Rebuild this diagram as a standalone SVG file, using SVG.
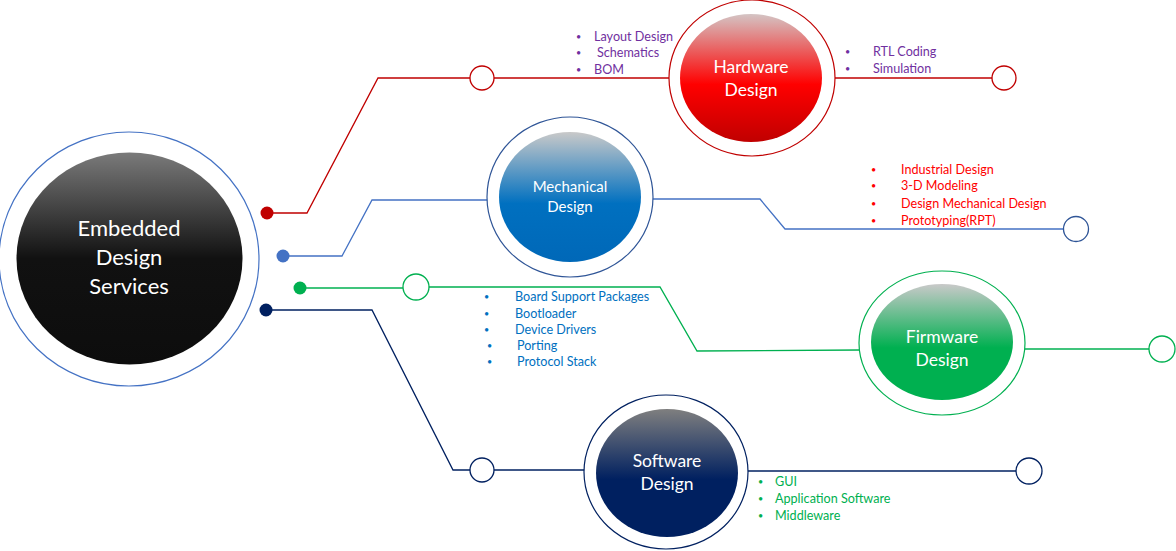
<svg xmlns="http://www.w3.org/2000/svg" width="1176" height="551" viewBox="0 0 1176 551">
<defs>
<linearGradient id="gMain" x1="0" y1="0" x2="0" y2="1">
<stop offset="0" stop-color="#7a7a7a"/><stop offset="0.5" stop-color="#111"/><stop offset="1" stop-color="#0d0d0d"/>
</linearGradient>
<linearGradient id="gHw" x1="0" y1="0" x2="0" y2="1">
<stop offset="0" stop-color="#d4c4c4"/><stop offset="0.55" stop-color="#ff0000"/><stop offset="1" stop-color="#c00000"/>
</linearGradient>
<linearGradient id="gMe" x1="0" y1="0" x2="0" y2="1">
<stop offset="0" stop-color="#c9c9c9"/><stop offset="0.55" stop-color="#0070c0"/><stop offset="1" stop-color="#0068b8"/>
</linearGradient>
<linearGradient id="gFw" x1="0" y1="0" x2="0" y2="1">
<stop offset="0" stop-color="#c9c9c9"/><stop offset="0.55" stop-color="#00b050"/><stop offset="1" stop-color="#00b050"/>
</linearGradient>
<linearGradient id="gSw" x1="0" y1="0" x2="0" y2="1">
<stop offset="0" stop-color="#7f7f7f"/><stop offset="0.55" stop-color="#002060"/><stop offset="1" stop-color="#002060"/>
</linearGradient>
</defs>
<style>
.t{font-family:Lato,"Liberation Sans",sans-serif;}
.title{fill:#fff;text-anchor:middle;}
.li{font-size:12.6px;}
.b{font-size:9px;}
.ring{fill:#fff;stroke-width:1.2;}
.sm{fill:#fff;stroke-width:1.3;}
.ln{fill:none;stroke-width:1.3;}
</style>
<rect width="1176" height="551" fill="#fff"/>
<g id="connectors">
<polyline class="ln" stroke="#c00000" points="267,213 307,213 378,78 470,78"/>
<line class="ln" stroke="#c00000" x1="494" y1="78" x2="670" y2="78"/>
<line class="ln" stroke="#c00000" x1="835" y1="78" x2="992" y2="78"/>
<polyline class="ln" stroke="#4472c4" points="283,256 342,256 372,200 488,200"/>
<polyline class="ln" stroke="#4472c4" points="653,199 760,199 785,229 1064,229"/>
<line class="ln" stroke="#00b050" x1="300" y1="288" x2="403" y2="288"/>
<polyline class="ln" stroke="#00b050" points="429,287 660,287 697,351 860,350"/>
<line class="ln" stroke="#00b050" x1="1025" y1="349" x2="1149" y2="349"/>
<polyline class="ln" stroke="#002060" points="266,310 372,310 453,470 470,470"/>
<line class="ln" stroke="#002060" x1="494" y1="470" x2="585" y2="470"/>
<line class="ln" stroke="#002060" x1="748" y1="471" x2="1016" y2="471"/>
<circle class="sm" stroke="#c00000" cx="482" cy="78" r="12"/>
<circle class="sm" stroke="#c00000" cx="1004" cy="78" r="12"/>
<circle class="sm" stroke="#2f5597" cx="1076" cy="229" r="12.5"/>
<circle class="sm" stroke="#00b050" cx="416" cy="287" r="13"/>
<circle class="sm" stroke="#00b050" cx="1162" cy="349" r="13"/>
<circle class="sm" stroke="#002060" cx="482" cy="470" r="12"/>
<circle class="sm" stroke="#002060" cx="1029" cy="471" r="13"/>
<circle cx="267" cy="213" r="6.5" fill="#c00000"/>
<circle cx="283" cy="256" r="6.5" fill="#4472c4"/>
<circle cx="300" cy="288" r="6.5" fill="#00b050"/>
<circle cx="266" cy="310" r="6.5" fill="#002060"/>
</g>
<g id="main">
<ellipse class="ring" stroke="#4472c4" cx="129" cy="259" rx="130" ry="127"/>
<ellipse cx="129.5" cy="258.5" rx="113" ry="106" fill="url(#gMain)"/>
<text class="t title" font-size="22" x="129" y="236">Embedded</text>
<text class="t title" font-size="22" x="129" y="265">Design</text>
<text class="t title" font-size="22" x="129" y="294">Services</text>
</g>
<g id="hardware">
<ellipse class="ring" stroke="#c00000" cx="752" cy="78" rx="83" ry="78"/>
<ellipse cx="751" cy="78" rx="71" ry="64" fill="url(#gHw)"/>
<text class="t title" font-size="17.5" x="751" y="73">Hardware</text>
<text class="t title" font-size="17.5" x="751" y="96">Design</text>
<g class="t li" fill="#7030a0">
<text class="b" x="576" y="40">•</text><text x="594" y="41">Layout Design</text>
<text class="b" x="576" y="56">•</text><text x="597" y="57">Schematics</text>
<text class="b" x="576" y="73">•</text><text x="594" y="74">BOM</text>
<text class="b" x="845" y="55">•</text><text x="873" y="56">RTL Coding</text>
<text class="b" x="845" y="72">•</text><text x="873" y="73">Simulation</text>
</g>
</g>
<g id="mechanical">
<ellipse class="ring" stroke="#2f5597" cx="570" cy="197" rx="83" ry="80"/>
<ellipse cx="570" cy="197" rx="71" ry="65" fill="url(#gMe)"/>
<text class="t title" font-size="15" x="570" y="192">Mechanical</text>
<text class="t title" font-size="15" x="570" y="212">Design</text>
<g class="t li" fill="#ff0000">
<text class="b" x="871" y="173">•</text><text x="901" y="174">Industrial Design</text>
<text class="b" x="871" y="189">•</text><text x="901" y="190">3-D Modeling</text>
<text class="b" x="871" y="207">•</text><text x="901" y="208">Design Mechanical Design</text>
<text class="b" x="871" y="224">•</text><text x="901" y="225">Prototyping(RPT)</text>
</g>
</g>
<g id="firmware">
<ellipse class="ring" stroke="#00b050" cx="942" cy="343" rx="83" ry="72"/>
<ellipse cx="942" cy="342" rx="71" ry="58" fill="url(#gFw)"/>
<text class="t title" font-size="17.5" x="942" y="343">Firmware</text>
<text class="t title" font-size="17.5" x="942" y="366">Design</text>
<g class="t li" fill="#0070c0">
<text class="b" x="484" y="300">•</text><text x="515" y="301">Board Support Packages</text>
<text class="b" x="484" y="317">•</text><text x="515" y="318">Bootloader</text>
<text class="b" x="484" y="333">•</text><text x="515" y="334">Device Drivers</text>
<text class="b" x="487" y="349">•</text><text x="517" y="350">Porting</text>
<text class="b" x="487" y="365">•</text><text x="517" y="366">Protocol Stack</text>
</g>
</g>
<g id="software">
<ellipse class="ring" stroke="#002060" cx="666" cy="472" rx="82" ry="77"/>
<ellipse cx="667" cy="473" rx="71" ry="64" fill="url(#gSw)"/>
<text class="t title" font-size="17.5" x="667" y="467">Software</text>
<text class="t title" font-size="17.5" x="667" y="490">Design</text>
<g class="t li" fill="#00b050">
<text class="b" x="758" y="485">•</text><text x="775" y="486">GUI</text>
<text class="b" x="758" y="502">•</text><text x="775" y="503">Application Software</text>
<text class="b" x="758" y="519">•</text><text x="775" y="520">Middleware</text>
</g>
</g>
</svg>
